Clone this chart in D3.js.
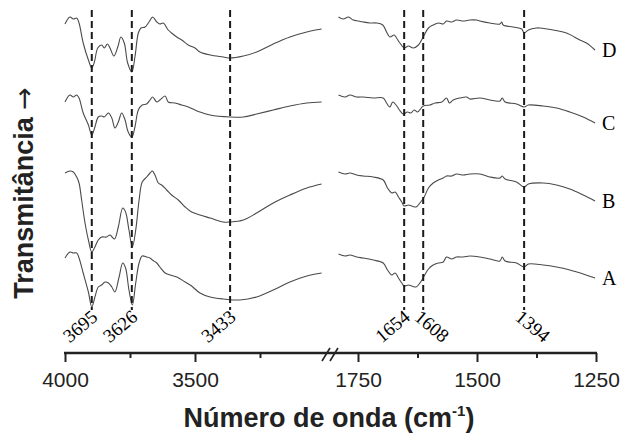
<!DOCTYPE html>
<html lang="pt">
<head>
<meta charset="UTF-8">
<title>Espectros FTIR</title>
<script src="https://d3js.org/d3.v7.min.js"></script>
<style>
    body { margin: 0; background: #fff; }
    svg { display: block; }
    .trace { fill: none; stroke: #4a4a4a; stroke-width: 1.1; }
    .peak { stroke: #1a1a1a; stroke-width: 2; stroke-dasharray: 7,4; }
    .peak-label { font-family: "Liberation Serif", "Times New Roman", serif; font-size: 19px; }
    .series-label { font-family: "Liberation Serif", "Times New Roman", serif; font-size: 20px; }
    .tick text { font-family: "Liberation Sans", Arial, sans-serif; font-size: 21px; fill: #222; }
    .tick line { stroke: #222; stroke-width: 2; }
    .axis-title { font-family: "Liberation Sans", Arial, sans-serif; font-weight: bold; font-size: 27px; fill: #222; }
</style>
</head>
<body>
<svg width="628" height="440"></svg>
<script>
// spectra, [wavenumber, transmittance (arbitrary, stacked)]
// left window (OH stretching region)
const leftD = [[4000,286],[3981,293],[3968,291],[3955,292],[3946,287],[3930,267],[3910,250],[3897,242],[3887,248],[3874,262],[3859,265],[3849,262],[3837,266],[3827,262],[3812,254],[3797,263],[3785,273],[3772,267],[3759,247],[3743,238],[3731,253],[3718,277],[3708,282],[3692,283],[3677,288],[3663,293],[3647,288],[3635,286],[3622,287],[3603,280],[3590,277],[3570,273],[3551,270],[3526,265],[3500,262],[3481,258],[3442,255],[3391,253],[3365,252],[3314,254],[3263,258],[3199,266],[3135,273],[3070,278],[3013,281]];
const leftC = [[4000,208],[3981,215],[3968,213],[3955,215],[3946,212],[3930,197],[3910,185],[3897,175],[3885,183],[3872,193],[3859,194],[3849,193],[3833,197],[3820,192],[3808,182],[3795,188],[3782,197],[3769,190],[3757,178],[3743,173],[3731,183],[3718,200],[3703,205],[3686,206],[3673,210],[3663,213],[3647,208],[3635,210],[3615,214],[3603,208],[3577,207],[3551,205],[3526,203],[3500,200],[3481,198],[3442,195],[3365,193],[3314,193],[3263,196],[3199,200],[3135,204],[3070,207],[3013,208]];
const leftB = [[4000,137],[3981,139],[3968,138],[3955,133],[3946,127],[3936,110],[3923,87],[3910,70],[3897,58],[3885,63],[3872,70],[3859,73],[3840,73],[3827,75],[3810,71],[3795,83],[3778,102],[3767,98],[3754,80],[3741,63],[3728,80],[3715,110],[3703,128],[3686,133],[3673,137],[3664,139],[3654,135],[3641,127],[3628,125],[3609,120],[3590,115],[3564,110],[3538,103],[3513,98],[3481,95],[3442,92],[3391,88],[3365,88],[3314,90],[3263,97],[3199,107],[3135,115],[3070,122],[3013,126]];
const leftA = [[4000,52],[3981,58],[3968,57],[3955,57],[3946,52],[3930,37],[3910,18],[3897,3],[3885,13],[3872,23],[3859,25],[3846,28],[3833,27],[3820,23],[3808,18],[3792,33],[3778,47],[3767,42],[3754,20],[3741,5],[3728,27],[3715,47],[3703,54],[3686,53],[3673,52],[3664,50],[3647,47],[3635,43],[3615,37],[3596,35],[3570,33],[3538,28],[3513,24],[3481,17],[3442,13],[3391,11],[3327,10],[3263,13],[3199,20],[3135,28],[3070,34],[3013,37]];

// right window (1800-1250 cm-1)
const rightD = [[1791,293],[1781,291],[1770,293],[1760,290],[1749,289],[1739,288],[1725,287],[1711,287],[1698,285],[1690,278],[1683,273],[1674,275],[1669,272],[1662,267],[1653,262],[1644,264],[1634,262],[1623,265],[1613,273],[1602,282],[1592,285],[1581,287],[1571,286],[1564,289],[1553,288],[1543,290],[1529,289],[1515,290],[1501,290],[1494,289],[1473,287],[1452,286],[1448,288],[1445,285],[1424,283],[1406,281],[1401,277],[1392,280],[1375,282],[1368,282],[1340,280],[1312,277],[1284,270],[1270,267],[1252,260]];
const rightC = [[1791,215],[1777,213],[1767,215],[1753,213],[1739,213],[1718,212],[1697,212],[1690,207],[1683,203],[1677,208],[1670,205],[1663,200],[1655,196],[1646,198],[1639,197],[1632,200],[1625,198],[1613,204],[1599,205],[1588,207],[1574,208],[1564,212],[1558,207],[1550,210],[1536,212],[1522,213],[1515,211],[1494,212],[1473,210],[1452,209],[1447,212],[1441,208],[1417,206],[1401,203],[1392,205],[1361,204],[1333,202],[1305,198],[1277,193],[1252,187]];
const rightB = [[1791,138],[1777,136],[1767,137],[1753,135],[1739,134],[1718,133],[1697,130],[1688,122],[1679,117],[1672,118],[1665,113],[1658,108],[1653,104],[1644,105],[1637,104],[1628,103],[1620,107],[1611,113],[1602,122],[1592,127],[1581,130],[1571,132],[1564,134],[1553,134],[1543,136],[1529,135],[1515,136],[1494,136],[1473,133],[1452,132],[1447,134],[1441,131],[1417,128],[1401,123],[1392,126],[1361,127],[1333,125],[1305,121],[1277,115],[1252,109]];
const rightA = [[1791,56],[1777,54],[1767,55],[1753,53],[1739,52],[1718,50],[1697,47],[1688,40],[1679,35],[1672,37],[1665,32],[1658,27],[1653,24],[1644,25],[1637,24],[1628,23],[1620,27],[1611,34],[1602,41],[1592,45],[1581,47],[1571,48],[1564,53],[1553,51],[1543,53],[1529,53],[1515,54],[1494,53],[1473,51],[1452,49],[1447,53],[1441,49],[1417,47],[1401,43],[1392,46],[1361,45],[1333,43],[1305,40],[1277,36],[1252,32]];

const seriesNames = ["D", "C", "B", "A"];
const seriesEnd = [260, 187, 109, 32];   // value where each label sits

// marked bands: label and where the dashed line sits on the axis
const leftPeaks = [{label: "3695", at: 3897}, {label: "3626", at: 3743}, {label: "3433", at: 3365}];
const rightPeaks = [{label: "1654", at: 1653, lean: -1}, {label: "1608", at: 1613, lean: 1}, {label: "1394", at: 1401, lean: 1}];

const majorLeft = [4000, 3500], minorLeft = [3750, 3250];
const majorRight = [1750, 1500, 1250], minorRight = [1625, 1375];

const svg = d3.select("svg");

const xL = d3.scaleLinear().domain([4000, 3000]).range([65, 325]);
const xR = d3.scaleLinear().domain([1800, 1250]).range([334.2, 596]);
const y = d3.scaleLinear().domain([0, 300]).range([310, 10]);
const axisY = 353;

// traces
function drawTrace(data, x) {
    const line = d3.line()
        .x(d => x(d[0]))
        .y(d => y(d[1]))
        .curve(d3.curveCatmullRom.alpha(0.5));
    svg.append("path").attr("class", "trace").attr("d", line(data));
}
[leftD, leftC, leftB, leftA].forEach(s => drawTrace(s, xL));
[rightD, rightC, rightB, rightA].forEach(s => drawTrace(s, xR));

// dashed band markers
const peaksAll = leftPeaks.map(p => ({...p, x: xL(p.at), lean: -1}))
    .concat(rightPeaks.map(p => ({...p, x: xR(p.at)})));

svg.selectAll(".peak")
    .data(peaksAll)
    .enter().append("line")
    .attr("class", "peak")
    .attr("x1", d => d.x).attr("x2", d => d.x)
    .attr("y1", y(300)).attr("y2", y(0));

svg.selectAll(".peak-label")
    .data(peaksAll)
    .enter().append("text")
    .attr("class", "peak-label")
    .attr("text-anchor", d => d.lean < 0 ? "end" : "start")
    .attr("transform", d => d.lean < 0
        ? `translate(${d.x + 7},${y(0) + 9}) rotate(-40)`
        : `translate(${d.x - 10},${y(0) + 9}) rotate(40)`)
    .text(d => d.label);

// series letters
svg.selectAll(".series-label")
    .data(seriesNames)
    .enter().append("text")
    .attr("class", "series-label")
    .attr("x", 602)
    .attr("y", (d, i) => y(seriesEnd[i]) + 7)
    .text(d => d);

// broken x axis
function addAxis(scale, values, size, labels) {
    const g = svg.append("g")
        .attr("transform", `translate(0,${axisY})`)
        .call(d3.axisBottom(scale).tickValues(values).tickSize(size)
            .tickPadding(10)
            .tickFormat(labels ? d3.format("d") : ""));
    g.select(".domain").remove();
}
addAxis(xL, majorLeft, 9, true);
addAxis(xL, minorLeft, 5, false);
addAxis(xR, majorRight, 9, true);
addAxis(xR, minorRight, 5, false);

svg.append("line")
    .attr("x1", xL(4000) - 1).attr("x2", xR(1250) + 1)
    .attr("y1", axisY).attr("y2", axisY)
    .attr("stroke", "#222").attr("stroke-width", 2.5);

// break marks
[322, 330].forEach(bx => {
    svg.append("line")
        .attr("x1", bx).attr("y1", axisY + 8)
        .attr("x2", bx + 8).attr("y2", axisY - 5)
        .attr("stroke", "#222").attr("stroke-width", 1.6);
});

// axis titles
const xt = svg.append("text")
    .attr("class", "axis-title")
    .attr("x", 329).attr("y", 427)
    .attr("text-anchor", "middle");
xt.append("tspan").text("Número de onda (cm");
xt.append("tspan").attr("font-size", "15px").attr("dy", -11).text("-1");
xt.append("tspan").attr("dy", 11).text(")");

const yt = svg.append("text")
    .attr("class", "axis-title")
    .attr("transform", "translate(33,193) rotate(-90)")
    .attr("text-anchor", "middle");
yt.append("tspan").text("Transmitância ");
yt.append("tspan").attr("font-family", "DejaVu Sans").attr("font-weight", "normal").text("→");
</script>
</body>
</html>
